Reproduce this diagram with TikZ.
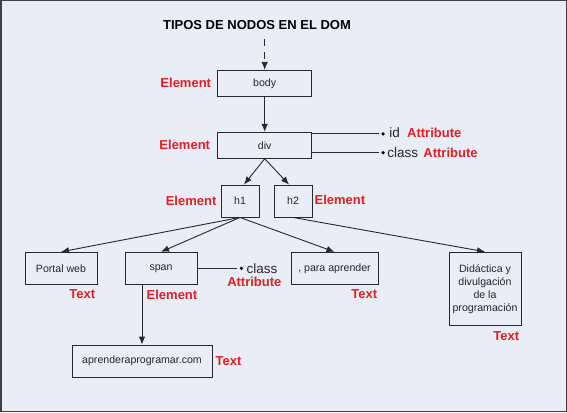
\documentclass[tikz,border=0pt]{standalone}
\usepackage{fontspec}
\setmainfont{Liberation Sans}
\usetikzlibrary{arrows.meta,positioning}
\definecolor{bgblue}{RGB}{233,237,245}
\definecolor{tagred}{RGB}{228,30,36}
\definecolor{boxline}{RGB}{40,40,40}

\begin{document}
\begin{tikzpicture}[
                >={Latex[length=8pt,width=6.5pt]},
                node distance=2cm,
                on grid,
                elem/.style={draw=boxline, line width=0.9pt, inner sep=0pt,
                    font=\fontsize{10.6}{13}\selectfont, text=black!85},
                tag/.style={on grid=false, inner sep=0pt, text=tagred,
                    font=\bfseries\fontsize{13}{15}\selectfont},
                attrname/.style={on grid=false, inner sep=0pt,
                    font=\fontsize{13.5}{15}\selectfont, text=black!85},
                attrdot/.style={circle, fill=black, inner sep=0pt,
                    minimum size=3.6pt},
                link/.style={line width=0.9pt, draw=boxline}]
            \useasboundingbox (0,0) rectangle (567pt,-412pt);
            \fill[bgblue] (0,0) rectangle (567pt,-412pt);
            \draw[line width=1.5pt, draw=black!75]
                (0.75pt,-0.75pt) rectangle (566.25pt,-411.25pt);

            % element nodes
            \node[elem, minimum width=94pt, minimum height=26pt]  (body) at (264.7pt,-83.3pt)   {body};
            \node[elem, minimum width=94pt, minimum height=26pt]  (div) [below=62pt of body]      {div};
            \node[elem, minimum width=38pt, minimum height=32pt]  (h1) [below left=55.7pt and 24.7pt of div] {h1};
            \node[elem, minimum width=38pt, minimum height=32pt]  (h2) [right=53pt of h1]         {h2};
            \node[elem, minimum width=72pt, minimum height=32pt]  (span) [below left=67.3pt and 79pt of h1] {span};
            \node[elem, minimum width=72pt, minimum height=32pt]  (portal) [left=100pt of span]   {Portal web};
            \node[elem, minimum width=87pt, minimum height=32pt]  (para) [right=173.5pt of span]  {, para aprender};
            \node[elem, minimum width=72pt, minimum height=73pt, align=center]
                                                                  (didactica) [below right=87.7pt and 192pt of h2]
                                                                  {Didáctica y\\divulgación\\de la\\programación};
            \node[elem, minimum width=140pt, minimum height=32pt] (aprender) [below=92.7pt of span, xshift=-19pt]
                                                                  {aprenderaprogramar.com};

            \node[font=\bfseries\fontsize{13}{15}\selectfont] (title) [above left=58pt and 7.7pt of body]
                {TIPOS DE NODOS EN EL DOM};
            \coordinate[above=44pt of body] (entry);

            % node type tags
            \node[tag] (bodytag) [left=6pt of body]                                 {Element};
            \node[tag] (divtag) [left=7pt of div]                                   {Element};
            \node[tag] (h1tag) [left=4pt of h1]                                     {Element};
            \node[tag] (h2tag) [right=2pt of h2, yshift=1.5pt]                      {Element};
            \node[tag] (portaltag) [below left=5pt and 2pt of portal.south east]    {Text};
            \node[tag] (spantag) [below left=5pt and 0pt of span.south east]        {Element};
            \node[tag] (paratag) [below left=5pt and 1pt of para.south east]        {Text};
            \node[tag] (didactag) [below left=5.5pt and 2pt of didactica.south east] {Text};
            \node[tag] (aprendertag) [right=3pt of aprender]                        {Text};

            % attributes
            \node[attrdot] (iddot) [above right=10pt and 69.5pt of div.east]        {};
            \node[attrname] (idname) [right=4pt of iddot, yshift=1.5pt]             {id};
            \node[tag] (idtag) [right=7pt of idname]                                {Attribute};
            \node[attrdot] (classdot) [below right=6pt and 69.5pt of div.east]      {};
            \node[attrname] (classname) [right=2pt of classdot]                     {class};
            \node[tag] (classtag) [right=5pt of classname]                          {Attribute};
            \node[attrdot] (spandot) [right=42pt of span.east]                      {};
            \node[attrname] (spanname) [right=3pt of spandot]                       {class};
            \node[tag] (spanattr) [below left=3.5pt and -4pt of spanname.south east] {Attribute};

            \draw[link, ->, dash pattern=on 7pt off 6pt] (entry) -- (body);
            \draw[link, ->] (body) -- (div);
            \draw[link, ->] (div.south) -- ([xshift=4pt]h1.north);
            \draw[link, ->] (div.south) -- ([xshift=-4pt]h2.north);
            \draw[link, ->] (h1.south) -- (portal.north);
            \draw[link, ->] (h1.south) -- (span.north);
            \draw[link, ->] (h1.south) -- (para.north);
            \draw[link, ->] (h2.south) -- (didactica.north);
            \draw[link, ->] (span.south -| aprender.north) -- (aprender.north);
            \draw[link, shorten >=2pt] (div.east |- iddot) -- (iddot);
            \draw[link, shorten >=2pt] (div.east |- classdot) -- (classdot);
            \draw[link, shorten >=2pt] (span.east) -- (spandot);
        \end{tikzpicture}
\end{document}
